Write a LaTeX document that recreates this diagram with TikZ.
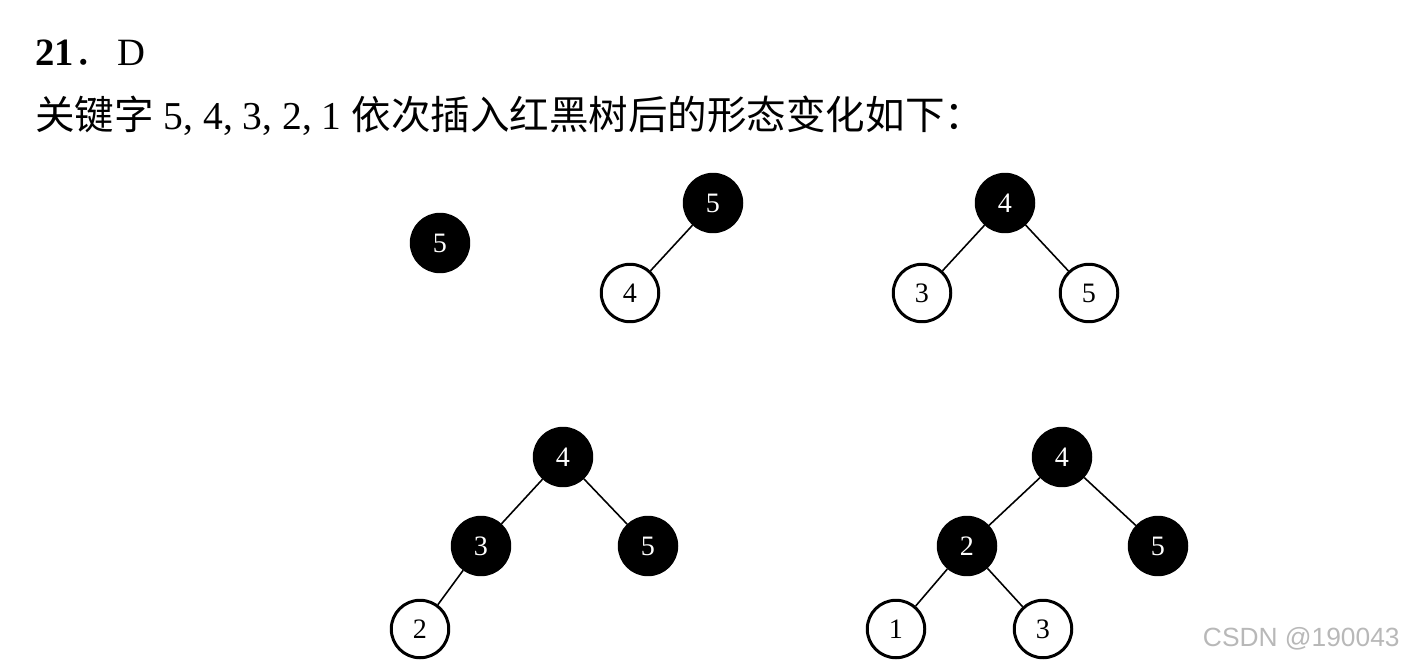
\documentclass[tikz,border=0pt]{standalone}
\usepackage{fontspec}
\setmainfont{Liberation Serif}
\setsansfont{Liberation Sans}
\newfontfamily\cjk{Noto Sans CJK SC}
\begin{document}
\begin{tikzpicture}[x=0.02cm,y=-0.02cm,
  rb/.style={circle,draw=black,line width=1.7pt,minimum size=1.15cm,inner sep=0pt,font=\fontsize{16}{18}\selectfont},
  bk/.style={rb,fill=black,text=white},
  wt/.style={rb,fill=white,text=black},
  edge/.style={line width=0.9pt}]
\path[use as bounding box] (0,0) rectangle (1405,666);
\node[anchor=base west,inner sep=0pt,font=\fontsize{22}{26}\selectfont] (title) at (35,65) {\textbf{21}{\cjk ．}\hspace{3pt}D};
\node[anchor=base west,inner sep=0pt,font=\fontsize{22.5}{26}\selectfont] (line) at (35,129) {{\cjk 关键字} 5, 4, 3, 2, 1 {\cjk 依次插入红黑树后的形态变化如下：}};
% tree 1
\node[bk] (a5) at (440,243) {5};
% tree 2
\node[bk] (b5) at (713,203) {5};
\node[wt] (b4) at (630,293) {4};
\draw[edge] (b5) -- (b4);
% tree 3
\node[bk] (c4) at (1005,203) {4};
\node[wt] (c3) at (922,293) {3};
\node[wt] (c5) at (1089,293) {5};
\draw[edge] (c4) -- (c3);
\draw[edge] (c4) -- (c5);
% tree 4
\node[bk] (d4) at (563,457) {4};
\node[bk] (d3) at (481,546) {3};
\node[bk] (d5) at (648,546) {5};
\node[wt] (d2) at (420,629) {2};
\draw[edge] (d4) -- (d3);
\draw[edge] (d4) -- (d5);
\draw[edge] (d3) -- (d2);
% tree 5
\node[bk] (e4) at (1062,457) {4};
\node[bk] (e2) at (967,546) {2};
\node[bk] (e5) at (1158,546) {5};
\node[wt] (e1) at (896,629) {1};
\node[wt] (e3) at (1043,629) {3};
\draw[edge] (e4) -- (e2);
\draw[edge] (e4) -- (e5);
\draw[edge] (e2) -- (e1);
\draw[edge] (e2) -- (e3);
% watermark
\node[anchor=base east,inner sep=0pt,text=black!28,font=\sffamily\fontsize{15}{17}\selectfont] (wm) at (1400,646) {CSDN @190043};
\end{tikzpicture}
\end{document}
